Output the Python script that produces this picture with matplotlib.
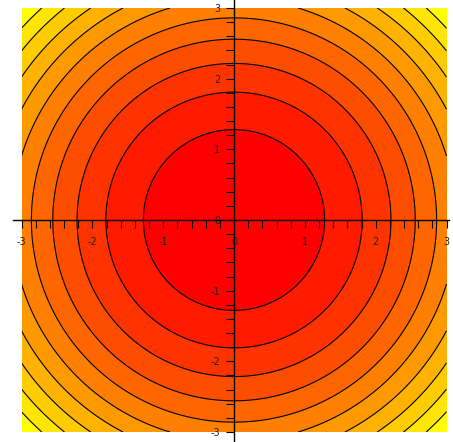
import numpy as np
import matplotlib.pyplot as plt
from matplotlib.colors import ListedColormap, BoundaryNorm
from matplotlib.ticker import MultipleLocator

# f(x, y) = x^2 + y^2 on [-3, 3] x [-3, 3], 10 contours evenly spaced over [0, 18]
x_range = [-3, 3]
y_range = [-3, 3]
n_contours = 10
f_max = 18.0
levels = [f_max * k / (n_contours + 1) for k in range(n_contours + 2)]
tick_values = [-3, -2, -1, 0, 1, 2, 3]
tick_labels = ["-3", "-2", "-1", "0", "1", "2", "3"]

# band colours: red in the middle going to yellow at the corners
n_bands = len(levels) - 1
band_colors = [(1.0, k / (n_bands - 1), 0.0) for k in range(n_bands)]

xs = np.linspace(x_range[0], x_range[1], 601)
ys = np.linspace(y_range[0], y_range[1], 601)
X, Y = np.meshgrid(xs, ys)
Z = X**2 + Y**2

fig = plt.figure(figsize=(4.53, 4.42), dpi=100)
ax = fig.add_axes([21.5 / 453, 10 / 442, 425 / 453, 424 / 442])

cmap = ListedColormap(band_colors)
norm = BoundaryNorm(levels, cmap.N)
ax.contourf(X, Y, Z, levels=levels, cmap=cmap, norm=norm)
ax.contour(X, Y, Z, levels=levels[1:-1], colors="black", linewidths=0.8)

ax.set_xlim(x_range)
ax.set_ylim(y_range)

# axes crossing at the origin, like Maple
for side in ["top", "right"]:
    ax.spines[side].set_visible(False)
ax.spines["left"].set_position("zero")
ax.spines["bottom"].set_position("zero")
ax.spines["bottom"].set_bounds(-3.12, 3.03)
ax.spines["left"].set_bounds(-3.14, 3.12)
for side in ["left", "bottom"]:
    ax.spines[side].set_linewidth(1.0)
    ax.spines[side].set_zorder(5)

ax.set_xticks(tick_values)
ax.set_xticklabels(tick_labels)
ax.set_yticks(tick_values)
ax.set_yticklabels(tick_labels)
ax.xaxis.set_minor_locator(MultipleLocator(0.2))
ax.yaxis.set_minor_locator(MultipleLocator(0.2))
ax.tick_params(which="both", direction="out", length=6, width=0.8, colors="black")
ax.tick_params(axis="x", which="major", pad=6, labelsize=7, labelcolor="#222222")
ax.tick_params(axis="y", which="major", pad=4, labelsize=7, labelcolor="#222222")
for t in ax.get_xticklabels() + ax.get_yticklabels():
    t.set_zorder(6)

fig.savefig("out.png", dpi=100)
